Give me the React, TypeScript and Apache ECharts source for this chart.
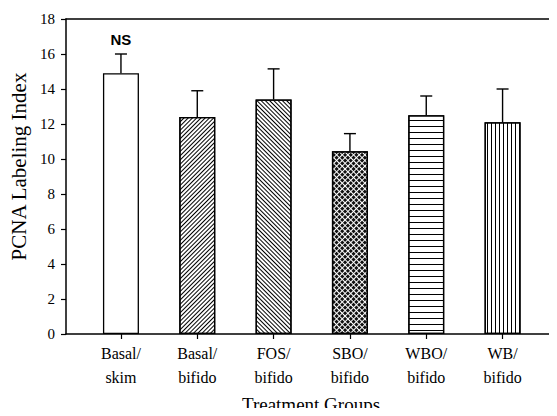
import React, { useEffect, useRef } from "react";
import * as echarts from "echarts";

const categories = ["Basal/\nskim", "Basal/\nbifido", "FOS/\nbifido", "SBO/\nbifido", "WBO/\nbifido", "WB/\nbifido"];
const means = [14.9, 12.4, 13.4, 10.45, 12.5, 12.1];
const errUpper = [16.0, 13.9, 15.15, 11.45, 13.6, 14.0];
const yTicks = { min: 0, max: 18, interval: 2 };
const noteLabel = "NS";

const decals: any[] = [
  null,
  { symbol: "rect", symbolSize: 1, dashArrayX: [1, 0], dashArrayY: [1, 2], rotation: -Math.PI / 4, color: "#000" },
  { symbol: "rect", symbolSize: 1, dashArrayX: [1, 0], dashArrayY: [1, 1.8], rotation: Math.PI / 4, color: "#000" },
  { symbol: "rect", symbolSize: 1, dashArrayX: [2.2, 1], dashArrayY: [2.2, 1], rotation: Math.PI / 4, color: "#111" },
  { symbol: "rect", symbolSize: 1, dashArrayX: [1, 0], dashArrayY: [1, 5], rotation: 0, color: "#000" },
  { symbol: "rect", symbolSize: 1, dashArrayX: [1, 0], dashArrayY: [1, 2.6], rotation: Math.PI / 2, color: "#000" },
];

const SERIF = "Liberation Serif";
const X_MIN = 0.28;
const X_MAX = 6.7;

export default function App() {
  const ref = useRef<HTMLDivElement>(null);
  useEffect(() => {
    const chart = echarts.init(ref.current!, null, { renderer: "svg" });
    const xs = categories.map((_, i) => i + 1);
    chart.setOption({
      animation: false,
      backgroundColor: "#fff",
      textStyle: { fontFamily: SERIF, color: "#000" },
      grid: { left: 66, right: 1, top: 19, bottom: 82, outerBoundsMode: "none", containLabel: false },
      xAxis: [
        {
          type: "value",
          min: X_MIN,
          max: X_MAX,
          name: "Treatment Groups",
          nameLocation: "middle",
          nameGap: 61,
          nameTextStyle: { fontFamily: SERIF, fontSize: 19, color: "#000" },
          axisLine: { show: true, lineStyle: { color: "#000", width: 1.5 } },
          axisTick: { show: true, customValues: xs, length: 5, lineStyle: { color: "#000", width: 1.2 } },
          axisLabel: {
            customValues: xs,
            formatter: (v: number) => categories[Math.round(v) - 1] || "",
            fontFamily: SERIF,
            fontSize: 16,
            lineHeight: 24,
            color: "#000",
            margin: 7,
          },
          splitLine: { show: false },
        },
        {
          type: "value",
          position: "top",
          min: X_MIN,
          max: X_MAX,
          axisLine: { show: true, onZero: false, lineStyle: { color: "#000", width: 1.5 } },
          axisTick: { show: false },
          axisLabel: { show: false },
          splitLine: { show: false },
        },
      ],
      yAxis: {
        type: "value",
        min: yTicks.min,
        max: yTicks.max,
        interval: yTicks.interval,
        name: "PCNA Labeling Index",
        nameLocation: "middle",
        nameGap: 37,
        nameTextStyle: { fontFamily: SERIF, fontSize: 21, color: "#000", padding: [0, 0, 0, 20] },
        axisLine: { show: true, lineStyle: { color: "#000", width: 1.5 } },
        axisTick: { show: true, length: 5, lineStyle: { color: "#000", width: 1.2 } },
        axisLabel: { fontFamily: SERIF, fontSize: 15, color: "#000", margin: 11 },
        splitLine: { show: false },
      },
      series: [
        {
          type: "bar",
          xAxisIndex: 0,
          barWidth: 36,
          data: means.map((v, i) => ({
            value: [i + 1, v],
            itemStyle: {
              color: "#fff",
              borderColor: "#000",
              borderWidth: 1.3,
              decal: decals[i] || undefined,
            },
          })),
        },
        {
          type: "custom",
          xAxisIndex: 0,
          data: means.map((v, i) => [i + 1, v, errUpper[i]]),
          renderItem: (params: any, api: any) => {
            const x = api.value(0);
            const lo = api.coord([x, api.value(1)]);
            const hi = api.coord([x, api.value(2)]);
            const children: any[] = [
              { type: "line", shape: { x1: lo[0], y1: lo[1], x2: hi[0], y2: hi[1] }, style: { stroke: "#000", lineWidth: 1.4 } },
              { type: "line", shape: { x1: hi[0] - 6, y1: hi[1], x2: hi[0] + 6, y2: hi[1] }, style: { stroke: "#000", lineWidth: 1.4 } },
            ];
            if (params.dataIndex === 0) {
              children.push({
                type: "text",
                x: hi[0],
                y: hi[1] - 15,
                style: { text: noteLabel, fontFamily: "Liberation Sans", fontWeight: "bold", fontSize: 15, fill: "#000", align: "center", verticalAlign: "middle" },
              });
            }
            return { type: "group", children };
          },
          z: 5,
        },
      ],
    });
    return () => chart.dispose();
  }, []);
  return <div ref={ref} style={{ width: 557, height: 416, margin: -8 }} />;
}
